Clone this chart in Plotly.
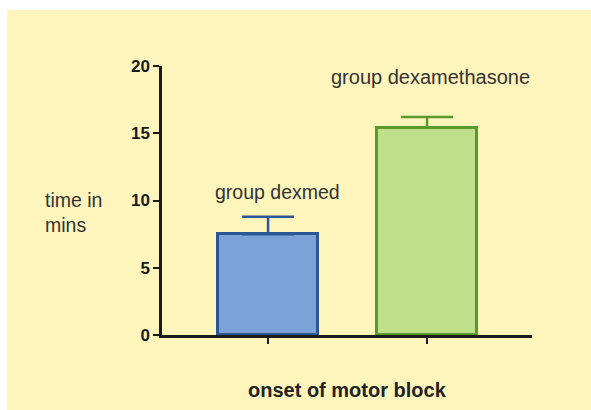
import plotly.graph_objects as go

groups = ["group dexmed", "group dexamethasone"]
means = [7.5, 15.4]
sem = [1.3, 0.8]
fills = ["#7BA3D8", "#C0DF8A"]
edges = ["#2B5797", "#5A9A2A"]
y_ticks = [0, 5, 10, 15, 20]

FONT = "Liberation Sans, Arial, sans-serif"

fig = go.Figure()
for i, g in enumerate(groups):
    fig.add_trace(go.Bar(
        x=[i], y=[means[i]], width=0.63,
        marker=dict(color=fills[i], line=dict(color=edges[i], width=3)),
        error_y=dict(type="data", array=[sem[i]], arrayminus=[0], symmetric=False,
                     color=edges[i], thickness=2.5, width=26),
        showlegend=False,
    ))

fig.add_annotation(x=0, y=10.6, xshift=9, text=groups[0], showarrow=False,
                   xanchor="center", yanchor="middle",
                   font=dict(family=FONT, size=19.5, color="#333333"))
fig.add_annotation(x=1, y=19.2, xshift=3, text=groups[1], showarrow=False,
                   xanchor="center", yanchor="middle",
                   font=dict(family=FONT, size=20, color="#333333"))

# white page strips at top and left (the yellow panel fills the rest)
fig.add_shape(type="rect", xref="paper", yref="paper", x0=-0.5, x1=1.3, y0=1.208, y1=1.4,
              fillcolor="white", line=dict(width=0), layer="below")
fig.add_shape(type="rect", xref="paper", yref="paper", x0=-0.5, x1=-0.419, y0=-0.4, y1=1.4,
              fillcolor="white", line=dict(width=0), layer="below")

fig.add_annotation(xref="paper", yref="paper", x=-0.322, y=0.454, text="time in<br>mins",
                   showarrow=False, xanchor="left", yanchor="middle", align="left",
                   font=dict(family=FONT, size=19.5, color="#333333"))
fig.add_annotation(xref="paper", yref="paper", x=0.501, y=-0.204, text="<b>onset of motor block</b>",
                   showarrow=False, xanchor="center", yanchor="middle",
                   font=dict(family=FONT, size=20, color="#222222"))

fig.update_layout(
    width=591, height=410,
    margin=dict(l=162, r=59, t=66, b=75),
    paper_bgcolor="#FEF5BD", plot_bgcolor="rgba(0,0,0,0)",
    bargap=0,
)
fig.update_xaxes(range=[-0.667, 1.66], tickvals=[0, 1], ticktext=["", ""],
                 ticks="outside", ticklen=6, tickwidth=2, tickcolor="#1a1a1a",
                 showline=True, linecolor="#1a1a1a", linewidth=2.5,
                 showgrid=False, zeroline=False)
fig.update_yaxes(range=[0, 20], tickvals=y_ticks, ticks="outside", ticklen=6, tickwidth=2,
                 tickcolor="#1a1a1a", showline=True, linecolor="#1a1a1a", linewidth=2.5,
                 showgrid=False, zeroline=False, automargin=False,
                 tickfont=dict(family=FONT, size=17, color="#1a1a1a", weight="bold"))

fig.write_html("out.html", config={"displayModeBar": False},
               post_script="document.body.style.margin='0';document.body.style.overflow='hidden';")
